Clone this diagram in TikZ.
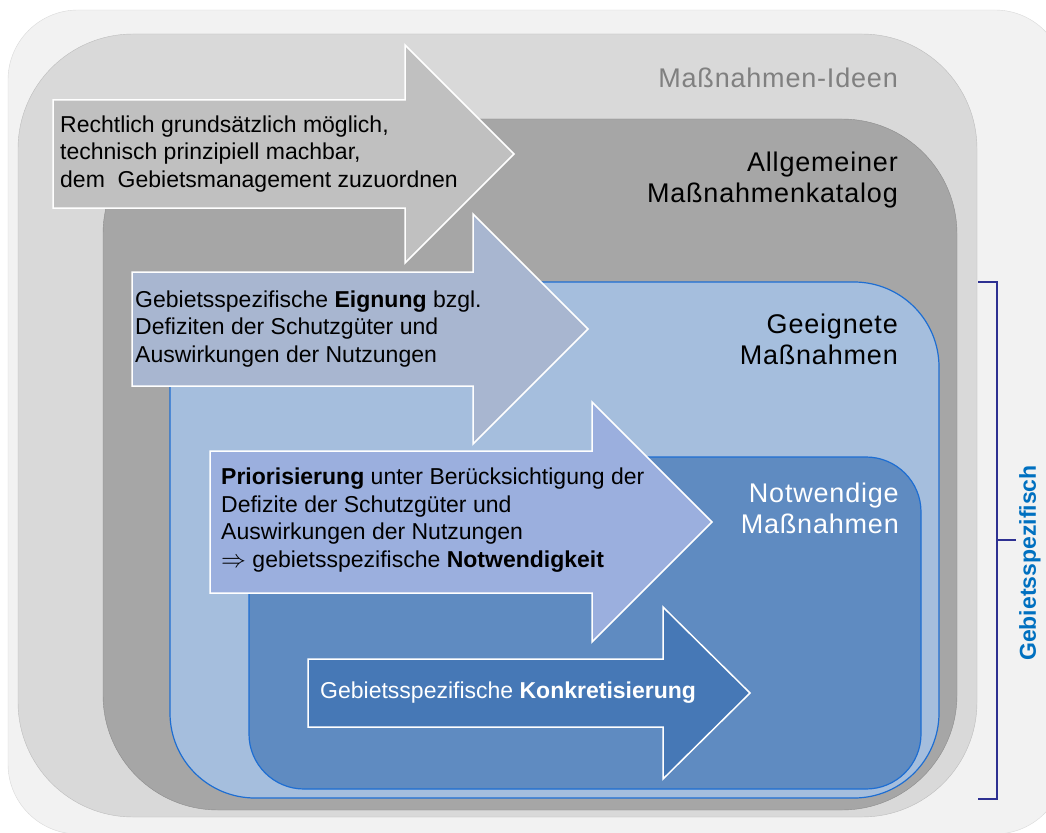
\documentclass[tikz,border=0pt]{standalone}
\usepackage{fontspec}
\setmainfont{Liberation Sans}
\newfontfamily\labelfont[LetterSpace=3]{Liberation Sans}
\definecolor{outerbg}{HTML}{F2F2F2}
\definecolor{outerline}{HTML}{D9D9D9}
\definecolor{ideenfill}{HTML}{D9D9D9}
\definecolor{ideenline}{HTML}{BDBDBD}
\definecolor{ideentext}{HTML}{808080}
\definecolor{katalogfill}{HTML}{A6A6A6}
\definecolor{katalogline}{HTML}{8C8C8C}
\definecolor{geeignetfill}{HTML}{A5BEDD}
\definecolor{notwendigfill}{HTML}{5F8BC1}
\definecolor{blueline}{HTML}{1E6ED2}
\definecolor{arrowone}{HTML}{C0C0C0}
\definecolor{arrowtwo}{HTML}{A8B6D0}
\definecolor{arrowthree}{HTML}{9BAFDE}
\definecolor{arrowfour}{HTML}{4678B6}
\definecolor{bracketline}{HTML}{2E3192}
\definecolor{gebietblue}{HTML}{0070C0}

\begin{document}
\begin{tikzpicture}[x=1pt,y=-1pt,
  blockarrow/.style={draw=white,line width=1.5pt,line join=miter},
  arrowtext/.style={anchor=west,align=left,inner sep=0pt,font=\fontsize{23}{27.5}\selectfont},
  boxlabel/.style={anchor=north east,align=right,inner sep=0pt,font=\labelfont\fontsize{27}{31}\selectfont}]
\useasboundingbox (0,0) rectangle (1046,832);
\clip (0,0) rectangle (1046,832);
\draw[draw=outerline,fill=outerbg,rounded corners=70pt] (8,10) rectangle (1065,834);
\draw[draw=ideenline,fill=ideenfill,rounded corners=115pt] (18,34) rectangle (977,817);
\draw[draw=katalogline,fill=katalogfill,rounded corners=115pt] (103,119) rectangle (957,810);
\draw[draw=blueline,line width=1.2pt,fill=geeignetfill,rounded corners=85pt] (170,282) rectangle (939,798);
\draw[draw=blueline,line width=1.2pt,fill=notwendigfill,rounded corners=55pt] (249,457) rectangle (921,789);
\draw[blockarrow,fill=arrowone] (53,100) -- (405,100) -- (405,45) -- (514,154) -- (405,263) -- (405,208) -- (53,208) -- cycle;
\draw[blockarrow,fill=arrowtwo] (132,272) -- (473,272) -- (473,214) -- (588,329) -- (473,444) -- (473,386) -- (132,386) -- cycle;
\draw[blockarrow,fill=arrowthree] (210,451) -- (592,451) -- (592,402) -- (712,522) -- (592,642) -- (592,593) -- (210,593) -- cycle;
\draw[blockarrow,fill=arrowfour] (308,659) -- (663,659) -- (663,607) -- (750,693) -- (663,779) -- (663,727) -- (308,727) -- cycle;
\node[boxlabel,text=ideentext] (ideen) at (898,68) {Maßnahmen-Ideen};
\node[boxlabel] (katalog) at (898,152) {Allgemeiner\\Maßnahmenkatalog};
\node[boxlabel] (geeignet) at (898,314) {Geeignete\\Maßnahmen};
\node[boxlabel,text=white] (notwendig) at (899,483) {Notwendige\\Maßnahmen};
\node[arrowtext] (rechtlich) at (60,154) {Rechtlich grundsätzlich möglich,\\technisch prinzipiell machbar,\\dem\ \ Gebietsmanagement zuzuordnen};
\node[arrowtext] (eignung) at (135,329) {Gebietsspezifische \textbf{Eignung} bzgl.\\Defiziten der Schutzgüter und\\Auswirkungen der Nutzungen};
\node[arrowtext] (prior) at (221,520) {\textbf{Priorisierung} unter Berücksichtigung der\\Defizite der Schutzgüter und\\Auswirkungen der Nutzungen\\$\Rightarrow$ gebietsspezifische \textbf{Notwendigkeit}};
\node[arrowtext,text=white] (konkret) at (320,693) {Gebietsspezifische \textbf{Konkretisierung}};
\draw[draw=bracketline,line width=1.5pt] (978,282) -- (997,282) -- (997,799) -- (978,799);
\draw[draw=bracketline,line width=1.5pt] (997,540) -- (1016,540);
\node[rotate=90,text=gebietblue,font=\bfseries\fontsize{23}{27}\selectfont] (gebiet) at (1030,563) {Gebietsspezifisch};
\end{tikzpicture}
\end{document}
